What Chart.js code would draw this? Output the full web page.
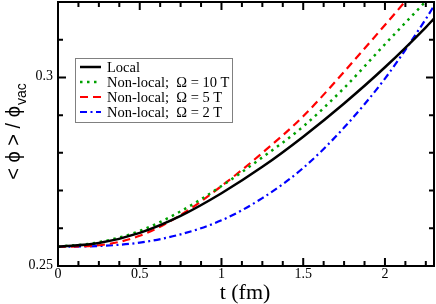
<!DOCTYPE html>
<html>
<head>
<meta charset="utf-8">
<script src="https://cdn.jsdelivr.net/npm/chart.js@4/dist/chart.umd.min.js"></script>
<style>
  html, body { margin: 0; padding: 0; background: #fff; }
  #chart { display: block; }
</style>
</head>
<body>
<canvas id="chart" width="436" height="304"></canvas>
<script>
// ── data ──
const times      = [0, 0.25, 0.5, 0.75, 1.0, 1.25, 1.5, 1.75, 2.0, 2.25, 2.3];
const localVals  = [0.2551, 0.2561, 0.2588, 0.2633, 0.2693, 0.2763, 0.2843, 0.2931, 0.3027, 0.3133, 0.3156];
const omega10    = [0.2551, 0.2563, 0.2593, 0.2645, 0.2712, 0.2788, 0.2870, 0.2972, 0.3088, 0.3202, 0.3225];
const omega5     = [0.2551, 0.2555, 0.2580, 0.2635, 0.2712, 0.2800, 0.2897, 0.3015, 0.3139, 0.3265, 0.3290];
const omega2     = [0.2551, 0.2553, 0.2562, 0.2584, 0.2621, 0.2680, 0.2760, 0.2867, 0.2997, 0.3155, 0.3190];

const seriesNames = ['Local', 'Non-local;  \u03A9 = 10 T', 'Non-local;  \u03A9 = 5 T', 'Non-local;  \u03A9 = 2 T'];

const xTickLabels = ['0', '0.5', '1', '1.5', '2'];
const xMajorTicks = [0, 0.5, 1, 1.5, 2];
const xMinorTicks = [0.125, 0.25, 0.375, 0.625, 0.75, 0.875, 1.125, 1.25, 1.375, 1.625, 1.75, 1.875, 2.125, 2.25];
const yTickLabels = ['0.25', '0.3'];
const yMajorTicks = [0.25, 0.3];
const yMinorTicks = [0.26, 0.27, 0.28, 0.29, 0.31];

const toPoints = vals => vals.map((v, i) => ({ x: times[i], y: v }));

// ── frame, inward ticks on all four sides, labels, titles, legend ──
const framePlugin = {
  id: 'frame',
  afterDraw(chart) {
    const { ctx, chartArea: a, scales: { x, y } } = chart;
    ctx.save();
    ctx.strokeStyle = '#000';
    ctx.lineWidth = 2;
    ctx.strokeRect(a.left, a.top, a.right - a.left, a.bottom - a.top);

    ctx.beginPath();
    const xt = (v, len) => {
      const px = x.getPixelForValue(v);
      ctx.moveTo(px, a.bottom); ctx.lineTo(px, a.bottom - len);
      ctx.moveTo(px, a.top); ctx.lineTo(px, a.top + len);
    };
    const yt = (v, len) => {
      const py = y.getPixelForValue(v);
      ctx.moveTo(a.left, py); ctx.lineTo(a.left + len, py);
      ctx.moveTo(a.right, py); ctx.lineTo(a.right - len, py);
    };
    xMajorTicks.forEach(v => xt(v, 8));
    xMinorTicks.forEach(v => xt(v, 5));
    yMajorTicks.forEach(v => yt(v, 8));
    yMinorTicks.forEach(v => yt(v, 5));
    ctx.stroke();

    // tick labels
    ctx.fillStyle = '#000';
    ctx.font = '14px "Liberation Serif"';
    ctx.textBaseline = 'middle';
    ctx.textAlign = 'center';
    xMajorTicks.forEach((v, i) => ctx.fillText(xTickLabels[i], x.getPixelForValue(v), a.bottom + 8));
    ctx.textAlign = 'right';
    yMajorTicks.forEach((v, i) => ctx.fillText(yTickLabels[i], a.left - 5, y.getPixelForValue(v) - 1));

    // x title
    ctx.font = '22px "Liberation Serif"';
    ctx.textAlign = 'center';
    ctx.textBaseline = 'alphabetic';
    ctx.fillText('t (fm)', 245, 299);

    // y title with subscript
    ctx.save();
    ctx.translate(20, 132);
    ctx.rotate(-Math.PI / 2);
    const mainFont = '20px "Liberation Sans", "DejaVu Sans"';
    const subFont = '14px "Liberation Sans", "DejaVu Sans"';
    ctx.font = mainFont;
    const main = '< \u03D5 > / \u03D5';
    const mw = ctx.measureText(main).width;
    ctx.font = subFont;
    const sw = ctx.measureText('vac').width;
    const start = -(mw + sw) / 2;
    ctx.textAlign = 'left';
    ctx.font = mainFont;
    ctx.fillText(main, start, 0);
    ctx.font = subFont;
    ctx.fillText('vac', start + mw + 1, 6);
    ctx.restore();

    // legend
    const bx = 75.5, by = 58.5, bw = 157, bh = 64;
    ctx.fillStyle = '#fff';
    ctx.fillRect(bx, by, bw, bh);
    ctx.strokeStyle = '#808080';
    ctx.lineWidth = 1;
    ctx.strokeRect(bx, by, bw, bh);
    ctx.font = '14.5px "Liberation Serif"';
    ctx.textBaseline = 'middle';
    ctx.textAlign = 'left';
    chart.data.datasets.forEach((ds, i) => {
      const ry = 67 + i * 15;
      ctx.beginPath();
      ctx.strokeStyle = ds.borderColor;
      ctx.lineWidth = ds.borderWidth;
      ctx.setLineDash(ds.borderDash || []);
      ctx.moveTo(80, ry);
      ctx.lineTo(101, ry);
      ctx.stroke();
      ctx.setLineDash([]);
      ctx.fillStyle = '#000';
      ctx.fillText(ds.label, 107, ry + 1);
    });
    ctx.restore();
  }
};

const fitX = s => { s.height = 38; s.paddingLeft = 0; s.paddingRight = 0; };
const fitY = s => { s.width = 58; s.paddingTop = 0; s.paddingBottom = 0; };

new Chart(document.getElementById('chart'), {
  type: 'line',
  data: {
    datasets: [
      { label: seriesNames[0], data: toPoints(localVals), borderColor: '#000000', borderWidth: 2.5 },
      { label: seriesNames[1], data: toPoints(omega10), borderColor: '#00a000', borderWidth: 2.5, borderDash: [2.5, 4.5] },
      { label: seriesNames[2], data: toPoints(omega5), borderColor: '#ff0000', borderWidth: 2.2, borderDash: [8, 5] },
      { label: seriesNames[3], data: toPoints(omega2), borderColor: '#0000ff', borderWidth: 2.2, borderDash: [7, 3.5, 2, 3.5] }
    ].map(ds => ({ ...ds, pointRadius: 0, fill: false, cubicInterpolationMode: 'monotone' }))
  },
  options: {
    responsive: false,
    animation: false,
    devicePixelRatio: 1,
    layout: { padding: { top: 2, right: 2, left: 0, bottom: 0 } },
    plugins: { legend: { display: false }, tooltip: { enabled: false } },
    scales: {
      x: {
        type: 'linear', min: 0, max: 2.3,
        grid: { display: false }, border: { display: false },
        ticks: { display: false, stepSize: 0.5 },
        afterFit: fitX
      },
      y: {
        type: 'linear', min: 0.25, max: 0.32,
        grid: { display: false }, border: { display: false },
        ticks: { display: false, stepSize: 0.05 },
        afterFit: fitY
      }
    }
  },
  plugins: [framePlugin]
});
</script>
</body>
</html>
